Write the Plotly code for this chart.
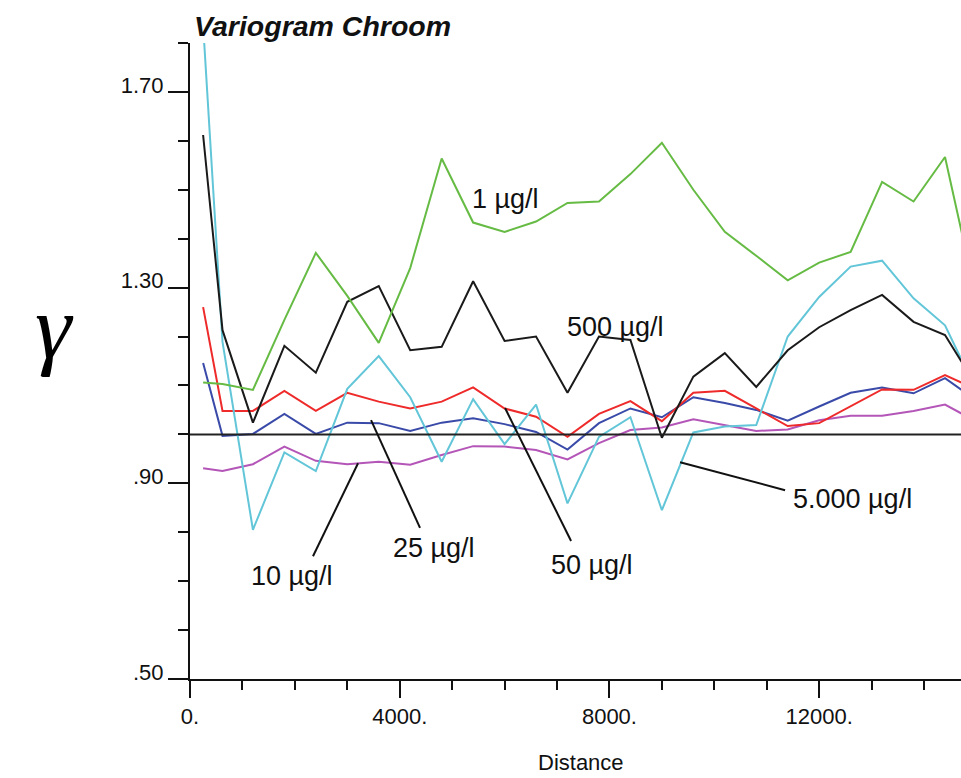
import plotly.graph_objects as go

# ---- data -------------------------------------------------------------
lags = [250, 620, 1200, 1800, 2400, 3000, 3600, 4200, 4800, 5400, 6000, 6600, 7200,
        7800, 8400, 9000, 9600, 10200, 10800, 11400, 12000, 12600, 13200, 13800,
        14400, 15000]

g_1 = [1.106, 1.103, 1.091, 1.234, 1.371, 1.283, 1.187, 1.340, 1.564, 1.433, 1.414,
       1.435, 1.473, 1.476, 1.532, 1.596, 1.500, 1.414, 1.365, 1.315, 1.351, 1.373,
       1.516, 1.476, 1.567, 1.277]
g_500 = [1.612, 1.213, 1.024, 1.181, 1.126, 1.271, 1.303, 1.172, 1.179, 1.313, 1.191,
         1.200, 1.085, 1.200, 1.193, 0.993, 1.118, 1.166, 1.097, 1.172, 1.219, 1.254,
         1.285, 1.230, 1.203, 1.099]
g_5000 = [1.837, 1.189, 0.805, 0.963, 0.925, 1.093, 1.160, 1.076, 0.944, 1.072, 0.980,
          1.061, 0.859, 0.995, 1.035, 0.845, 1.004, 1.016, 1.019, 1.200, 1.281, 1.343,
          1.355, 1.278, 1.223, 1.089]
g_50 = [1.260, 1.048, 1.048, 1.089, 1.048, 1.085, 1.067, 1.053, 1.067, 1.096, 1.053,
        1.036, 0.995, 1.042, 1.068, 1.027, 1.085, 1.089, 1.053, 1.017, 1.023, 1.057,
        1.092, 1.091, 1.121, 1.092]
g_25 = [1.146, 0.997, 1.001, 1.042, 1.001, 1.024, 1.023, 1.007, 1.024, 1.033, 1.021,
        1.005, 0.969, 1.023, 1.053, 1.035, 1.076, 1.064, 1.050, 1.028, 1.057, 1.085,
        1.096, 1.084, 1.115, 1.069]
g_10 = [0.931, 0.925, 0.939, 0.975, 0.946, 0.939, 0.944, 0.938, 0.958, 0.976, 0.975,
        0.968, 0.949, 0.982, 1.009, 1.014, 1.031, 1.019, 1.007, 1.010, 1.029, 1.038,
        1.038, 1.048, 1.061, 1.026]

series_names = ["10 µg/l", "25 µg/l", "50 µg/l", "5.000 µg/l", "500 µg/l", "1 µg/l"]
series_values = [g_10, g_25, g_50, g_5000, g_500, g_1]
series_colors = ["#b455b8", "#3a4aa8", "#ee2a2a", "#62c6d8", "#1a1a1a", "#66bb44"]

x_tickvals = [0, 4000, 8000, 12000]
x_ticktext = ["0.", "4000.", "8000.", "12000."]
y_tickvals = [0.5, 0.9, 1.3, 1.7]
y_ticktext = [".50", ".90", "1.30", "1.70"]
sill = 1.0

# labels: text, text position (x, y), leader line (x0, y0, x1, y1) or None
labels = [
    ("1 µg/l", 6009, 1.481, None),
    ("500 µg/l", 8107, 1.219, None),
    ("10 µg/l", 1946, 0.711, (2346, 0.751, 3205, 0.941)),
    ("25 µg/l", 4654, 0.768, (4387, 0.809, 3453, 1.029)),
    ("50 µg/l", 7668, 0.733, (7268, 0.782, 6009, 1.054)),
    ("5.000 µg/l", 12628, 0.868, (9347, 0.943, 11350, 0.886)),
]

# ---- figure -----------------------------------------------------------
fig = go.Figure()
for name, vals, col in zip(series_names, series_values, series_colors):
    fig.add_trace(go.Scatter(x=lags, y=vals, mode="lines", name=name,
                             line=dict(color=col, width=2), showlegend=False))

fig.add_shape(type="line", xref="paper", yref="y", x0=0, x1=1, y0=sill, y1=sill,
              line=dict(color="#222222", width=2))

FONT = "Liberation Sans, Arial, sans-serif"
for text, tx, ty, lead in labels:
    fig.add_annotation(x=tx, y=ty, xref="x", yref="y", text=text, showarrow=False,
                       font=dict(family=FONT, size=27, color="#111111"))
    if lead:
        fig.add_shape(type="line", xref="x", yref="y", x0=lead[0], y0=lead[1],
                      x1=lead[2], y1=lead[3], line=dict(color="#111111", width=2))

fig.add_annotation(xref="paper", yref="paper", x=0.003, y=1.0, xanchor="left",
                   yanchor="bottom", yshift=-1, text="Variogram Chroom", showarrow=False,
                   font=dict(family=FONT, size=28.5, color="#111111",
                             weight="bold", style="italic"))
fig.add_annotation(xref="paper", yref="paper", x=-0.204, y=0.553, text="γ",
                   showarrow=False,
                   font=dict(family="Liberation Serif, Times New Roman, serif",
                             size=92, color="#000000", style="italic"))
fig.add_annotation(xref="paper", yref="paper", x=0.507, y=-0.154, text="Distance",
                   showarrow=False, font=dict(family=FONT, size=22, color="#111111"))

fig.update_xaxes(range=[0, 14705], showgrid=False, zeroline=False,
                 showline=True, linecolor="#111111", linewidth=2,
                 tickmode="array", tickvals=x_tickvals, ticktext=x_ticktext,
                 ticks="outside", ticklen=17, tickwidth=2, tickcolor="#111111",
                 tickfont=dict(family=FONT, size=22, color="#111111"),
                 minor=dict(dtick=1000, tick0=0, ticks="outside", ticklen=9,
                            tickwidth=2, tickcolor="#111111"))
fig.update_yaxes(range=[0.5, 1.8], showgrid=False, zeroline=False,
                 showline=True, linecolor="#111111", linewidth=2,
                 tickmode="array", tickvals=y_tickvals, ticktext=y_ticktext,
                 ticks="outside", ticklen=20, tickwidth=2, tickcolor="#111111",
                 ticklabelshift=-7,
                 tickfont=dict(family=FONT, size=22, color="#111111"),
                 minor=dict(dtick=0.1, tick0=0.5, ticks="outside", ticklen=10,
                            tickwidth=2, tickcolor="#111111"))

fig.update_layout(width=961, height=778, margin=dict(l=190, r=0, t=43, b=99),
                  paper_bgcolor="white", plot_bgcolor="white")

fig.write_html("out.html")
